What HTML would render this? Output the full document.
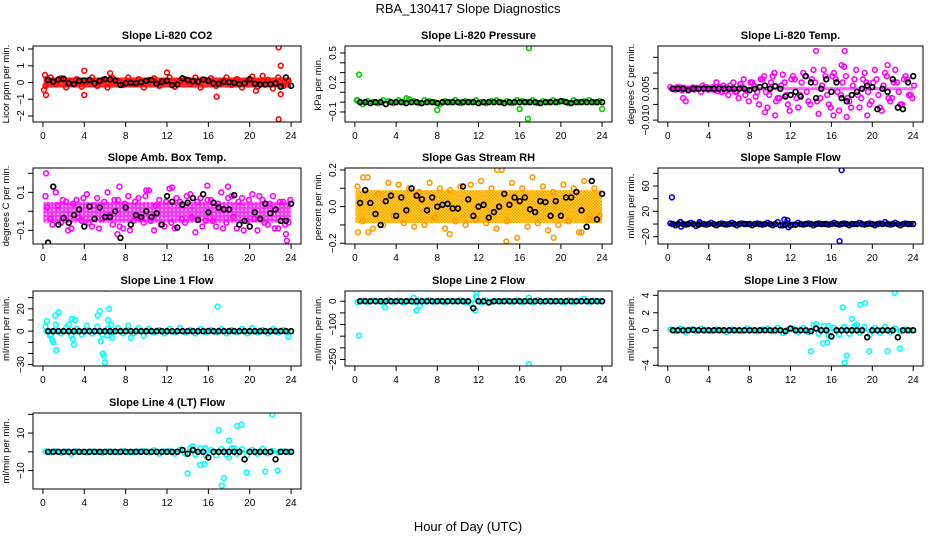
<!DOCTYPE html>
<html><head><meta charset="utf-8"><title>RBA_130417 Slope Diagnostics</title>
<style>
html,body{margin:0;padding:0;background:#fff;}
svg{display:block;font-family:"Liberation Sans",Arial,sans-serif;}
</style></head>
<body>
<svg id="chart" width="936" height="540" viewBox="0 0 936 540">
<defs>
<pattern id="rhpat" width="3" height="3" patternUnits="userSpaceOnUse">
<rect width="3" height="3" fill="#ffd800"/>
<rect width="1.5" height="1.5" fill="#ff8c00"/>
<rect x="1.5" y="1.5" width="1.5" height="1.5" fill="#ff8c00"/>
</pattern>
<pattern id="ambpat" width="4" height="4" patternUnits="userSpaceOnUse">
<rect width="4" height="4" fill="#ff00ff"/>
<rect x="1" y="1" width="2" height="2" fill="#ff99ff"/>
</pattern>
</defs>
<text x="468" y="13" text-anchor="middle" font-size="13">RBA_130417  Slope Diagnostics</text>
<text x="468" y="531" text-anchor="middle" font-size="13">Hour of Day (UTC)</text>
</svg>
<script>
// ---------- data ----------
const xTicks=[0,4,8,12,16,20,24];

const co2Black=[0.15,0.05,0.18,0.22,-0.05,-0.1,0.1,0.12,0.15,-0.05,0.1,0.2,0.18,0.12,-0.15,-0.05,-0.02,-0.05,0.02,0.1,0.15,-0.08,0.05,0.1,-0.15,-0.12,0.25,0.15,0.08,0.05,0.18,0.1,-0.05,-0.08,0.05,0.02,-0.02,-0.1,-0.05,0.2,-0.08,-0.12,-0.12,-0.1,-0.05,-0.25,0.3,-0.2];
const co2Cloud=[-0.2,0.3,-0.1,0.25,-0.3,0.1,0.2,-0.25,0.05,0.3,-0.2,0.15,-0.3,0.25,0.1,-0.15,0.3,-0.05,0.2,-0.3,0.15,0.25,-0.2,0.05,0.3,-0.25,0.1,0.2,-0.1,0.3,-0.3,0.15,0.25,-0.2,0.05,0.3,-0.15,0.2,-0.3,0.1,0.35,-0.25,0.4,0.15,-0.35,0.3,-0.2,0.1];
const co2Band=[-0.3,0.3];
const co2OutX=[22.8,22.8,23.0,4.0,4.0,0.3,0.2,16.8,23.0,6.5,12.0,0.1,20.6];
const co2OutY=[2.1,-2.2,1.0,0.7,-0.75,-0.75,0.45,-0.85,-0.7,0.55,0.6,-0.45,-0.5];

const presBlack=[0,0,-0.01,0,0,-0.02,0,0,0,-0.01,0,0,-0.01,0,0,-0.01,0,0,0,0,0,0,0,-0.01,0,0,0,0,-0.01,0,0,0,0,0,0,-0.01,0,0,0,0.01,0,-0.01,0,0,0,0,0,0];
const presCloud=[0.02,-0.02,0.01,0,-0.01,0.02,0.01,-0.01,0.02,0,0.03,0.01,-0.01,0.02,0.01,0,-0.02,0.01,0,0.02,-0.01,0.01,0,0.02,0,-0.01,0.01,0.02,0,0.01,-0.01,0.02,0.01,0,0.02,-0.01,0.01,0,0.02,0,0.01,-0.01,0.02,0,0.01,0.02,0,0.01];
const presBand=[-0.015,0.015];
const presOutX=[0.4,16.9,8.0,16.0,16.8,24.0,0.2,5.0];
const presOutY=[0.28,0.55,-0.08,-0.07,-0.17,-0.07,0.02,0.04];

const tempBlack=[0,0,0,-0.0005,0,0,0,0,0,0,0,0,0,0,0,-0.0005,0,0.0005,0.001,0,0.0008,0,-0.0025,-0.002,-0.001,-0.0025,0.004,0.002,-0.003,0,0.003,-0.001,0.002,-0.003,-0.004,-0.002,-0.001,0,0.001,0.0005,-0.0065,0,-0.001,0.003,-0.006,-0.0065,0.002,0.004];
const tempCloud=[0.0005,-0.0003,0.0004,-0.004,0,0.0003,-0.001,0.0005,-0.0002,0.002,-0.001,0.0004,0,-0.001,0.0005,-0.0005,0.002,-0.001,0.003,-0.006,0.004,-0.003,0.0045,-0.005,0.004,-0.006,0.005,-0.004,0.006,-0.008,0.006,-0.005,0.005,-0.007,0.007,-0.004,0.003,-0.006,0.005,-0.005,0.006,-0.006,0.005,-0.004,0.006,-0.005,0.004,-0.002];
const tempCloud2=[0,0.0005,-0.0005,0,0.0004,0,0.001,-0.0003,0.0005,-0.0008,0.001,-0.002,0.002,-0.003,0.003,-0.004,0.001,-0.005,0.004,-0.002,0.005,-0.003,0.002,-0.007,0.003,-0.002,0.004,-0.005,0.002,-0.003,0.004,-0.006,0.003,-0.002,0.004,-0.006,0.006,-0.003,0.002,-0.004,0.003,-0.007,0.004,-0.003,0.002,-0.005,0.003,-0.003];
const tempCloud3=[0,0,0.0003,0,-0.0003,0,0.0005,0,-0.0004,0.0006,-0.0008,0.001,-0.001,0.0015,-0.002,0.002,-0.0025,0.003,-0.001,0.002,-0.004,0.001,-0.002,0.003,-0.003,0.002,-0.001,0.003,-0.004,0.001,-0.002,0.004,-0.001,0.002,-0.003,0.001,-0.002,0.003,-0.001,0.002,-0.002,0.001,-0.003,0.002,-0.001,0.003,-0.002,0.001];
const tempBand=[-0.0005,0.0005];
const tempOutX=[14.5,17.3,17.5,1.5,21.5,9.5,10.5,19.5,16.2,17.0];
const tempOutY=[0.012,0.012,-0.009,-0.003,0.0075,-0.0075,-0.0085,-0.0085,-0.0085,0.0075];

const ambBlack=[-0.165,0.13,-0.07,-0.035,-0.06,-0.02,0.01,-0.08,0.025,-0.04,0.02,-0.03,-0.03,0,-0.14,0.02,-0.07,-0.02,-0.03,0,-0.03,-0.01,-0.07,0.08,0.05,-0.085,0.035,0.045,0.07,-0.045,0.09,-0.005,0.045,0.02,0.01,0.01,0.085,-0.07,-0.05,-0.08,-0.005,-0.04,0.04,-0.01,0.01,-0.05,-0.05,0.04];
const ambCloud=[0.08,-0.04,0.1,-0.06,0.05,-0.09,0.06,-0.05,0.09,-0.08,0.07,-0.04,0.1,-0.07,0.06,-0.09,0.08,-0.05,0.07,-0.06,0.11,-0.1,0.06,-0.08,0.12,-0.09,0.05,-0.06,0.09,-0.11,0.07,-0.05,0.06,-0.08,0.1,-0.06,0.08,-0.09,0.07,-0.05,0.09,-0.1,0.06,-0.07,0.08,-0.09,0.05,-0.06];
const ambCloud2=[0.02,-0.07,0.03,0.06,-0.1,0.04,-0.03,0.07,-0.06,0.03,-0.09,0.05,-0.02,0.06,-0.08,0.04,-0.1,0.05,-0.04,0.08,-0.05,0.03,-0.07,0.05,-0.06,0.07,-0.04,0.08,-0.03,0.05,-0.08,0.06,-0.05,0.04,-0.09,0.07,-0.03,0.05,-0.1,0.06,-0.04,0.08,-0.06,0.04,-0.09,0.05,-0.07,0.06];
const ambBand=[-0.06,0.05];
const ambOutX=[0.3,7.4,7.2,23.6,23.5,15.9,17.9,12.5,10.0];
const ambOutY=[0.2,0.13,-0.12,-0.155,-0.12,0.135,0.13,0.125,0.11];

const rhBlack=[0.02,0.09,0.02,-0.04,-0.1,0.03,0.06,-0.05,0.05,-0.02,0.1,0.06,0.04,-0.02,0.05,0,0.01,0.015,-0.01,-0.01,0.11,0.04,-0.05,0,0.01,-0.06,-0.03,0,0.07,0.01,0.05,0.03,0.05,-0.015,-0.03,0.03,0.025,-0.05,0.03,-0.05,0.05,0.05,0.08,-0.02,-0.11,0.14,-0.07,0.07];
const rhCloud=[0.11,-0.08,0.16,-0.12,0.07,-0.1,0.13,-0.05,0.12,-0.09,0.1,-0.11,0.08,-0.1,0.13,-0.06,0.1,-0.12,0.09,-0.08,0.11,-0.1,0.12,-0.07,0.14,-0.09,0.1,-0.12,0.2,-0.08,0.13,-0.17,0.1,-0.11,0.16,-0.09,0.11,-0.13,0.08,-0.1,0.12,-0.08,0.1,-0.14,0.14,-0.07,0.1,-0.05];
const rhBand=[-0.09,0.09];
const rhOutX=[0.3,1.3,22.0,14.7,19.3,9.2,0.8,13.8];
const rhOutY=[-0.14,-0.14,-0.14,-0.19,-0.17,-0.15,0.16,0.2];

const sfBlack=[0,0,0,0,0,-1,0,0,0,0,0,0,0,0,0,0,0,0,0,0,0,-2,-1,-2,-1,0,0,0,0,0,0,0,0,0,0,0,0,0,0,0,0,0,0,0,0,0,0,0];
const sfCloud=[1,-2,3,-1,2,-3,1,-1,2,-2,1,-1,2,-2,1,0,-2,1,-1,2,-2,3,-2,1,-1,2,-1,1,-2,1,0,-1,2,-1,1,-2,0,2,-1,1,-2,1,3,-1,2,-2,1,0];
const sfBand=[-2,2];
const sfOutX=[0.4,17.0,16.8,11.4,11.8,1.2,3.1,1.3,11.7];
const sfOutY=[42,85,-27,7,-5,3,3,-4,6];

const l1Black=[0,0,0,0,0,0,0,0,0,0,0,0,0,0,0,0,0,0,0,0,0,0,0,0,0,0,0,0,0,0,0,0,0,0,0,0,0,0,0,0,0,0,0,0,0,0,0,0];
const l1Cloud=[4,-3,6,-2,3,-4,2,-3,5,-2,4,-3,2,-1,3,-2,5,-2,3,-4,2,-1,1,-2,2,-1,3,-1,1,-2,2,-1,1,-1,2,-2,1,-1,2,-2,3,-1,1,-2,2,-1,1,-5];
const l1Band=[-2,2];
const l1OutX=[0.4,1.2,1.3,1.5,0.9,1.0,2.8,3.1,3.0,5.3,5.5,5.6,5.8,5.9,6.0,6.1,6.4,6.3,6.7,6.6,16.9,8.5,2.5,2.9,6.2,0.7];
const l1OutY=[9,14,-17,17,-8,-10,11,10,-12,14,18,-9,-20,-22,-28,38,20,10,-6,6,22,-6,6,-7,-4,-4];

const l2Black=[0,0,0,0,0,0,0,0,0,0,0,0,0,0,0,0,0,0,0,0,0,0,-30,0,0,-5,0,0,0,0,0,0,0,0,0,0,0,0,0,0,0,0,0,0,0,0,0,0];
const l2Cloud=[-3,3,-2,4,0,-4,5,-2,3,-5,2,-3,4,-1,5,-2,3,-4,2,0,5,-3,-10,20,-4,3,-2,2,-1,3,-2,4,-3,2,-4,5,-2,3,-1,2,-3,4,-2,3,10,-2,3,-1];
const l2Band=[-4,4];
const l2OutX=[0.4,16.9,5.7,6.0,2.9,11.7,16.9,11.8,11.8,6.3];
const l2OutY=[-148,-270,15,-40,-25,-40,15,40,20,-20];

const l3Black=[0,0,0,0,0.05,0,0,0,0,0,0,0,0,0,0,0,0,0,0,0,0,0,-0.1,0.2,0,0,0,-0.1,0.2,0,0,-0.7,0,0,0,0,0,0,-0.8,0,0,0,0,0,-0.8,0,0,0];
const l3Cloud=[0.1,-0.1,0.2,-0.2,0.1,-0.1,0.2,0,-0.1,0.1,0,-0.2,0.1,0,-0.1,0.2,0,-0.1,0.1,0.2,-0.1,0.3,-0.3,0.1,0.2,-0.2,0.3,-0.2,0.6,-0.4,0.5,-0.6,0.3,-0.5,0.4,-0.4,0.5,-0.3,0.4,-0.5,0.3,-0.3,0.4,-0.2,0.2,-0.1,0.1,0];
const l3Band=[-0.15,0.15];
const l3OutX=[22.2,19.3,18.8,17.1,18.0,14.0,15.2,15.6,17.3,17.5,19.7,21.5,22.7,14.5,15.7,18.5];
const l3OutY=[4.3,3.1,2.9,2.6,1.3,-2.4,-1.5,-1.4,-3.7,-2.9,-2.4,-2.4,-2.1,0.7,0.5,0.6];

const l4Black=[0,0,0,0,0,0,0,0,0,0,0,0,0,0,0,0,0,0,0,0,0,0,0,0,0,0,1,-1,1,0,0,-3,0,0,0,0,0,0,-4,0,0,0,0,0,-4,0,0,0];
const l4Cloud=[0.3,-0.3,0.5,-0.5,0.3,-1,0.4,0,-0.4,0.3,0,-0.5,0.3,0,-0.3,0.5,0,-0.3,0.3,0.5,-0.3,0.8,-1,0.3,0.5,-1,1.2,-1,2,-1.5,1.8,-2,1,-1.8,1.5,-1.5,2,-1,1.4,-1.8,1,-1,1.5,-0.8,0.5,-0.3,0.3,0];
const l4Band=[-0.6,0.6];
const l4OutX=[22.2,19.2,18.8,17.0,18.0,14.0,15.2,15.6,17.3,17.5,19.7,21.5,22.7,14.5,15.7,18.5,18.0];
const l4OutY=[20,14.5,13.8,11.5,6,-11.5,-7,-6.5,-18,-14,-11,-10.5,-10,3,2,2,-3];

// ---------- layout (not data) ----------
const panels=[
 {name:'co2',title:'Slope Li-820 CO2',yl:'Licor ppm per min.',L:33,T:46,W:268,H:76,ymin:-2.36,ymax:2.18,ticks:[-2,-1,0,1,2],labels:['\u22122','\u22121','0','1','2'],col:'#ff0000',band:co2Band,cloud:[co2Cloud],black:co2Black,ox:co2OutX,oy:co2OutY,bandColor:'#ff0000',bandOp:0.85},
 {name:'pressure',title:'Slope Li-820 Pressure',yl:'kPa per min.',L:345,T:46,W:267,H:76,ymin:-0.202,ymax:0.571,ticks:[-0.1,0,0.1,0.2,0.3,0.4,0.5],labels:['\u22120.1','','','0.2','','','0.5'],col:'#00cc00',band:presBand,cloud:[presCloud],black:presBlack,ox:presOutX,oy:presOutY,bandColor:'#00cc00',bandOp:0.8},
 {name:'temp',title:'Slope Li-820 Temp.',yl:'degrees C per min.',L:658,T:46,W:265,H:76,ymin:-0.0106,ymax:0.0136,ticks:[-0.01,-0.005,0,0.005,0.01],labels:['\u22120.010','','0.005','',''],col:'#ff00ff',band:tempBand,cloud:[tempCloud,tempCloud2,tempCloud3],black:tempBlack,ox:tempOutX,oy:tempOutY,bandColor:'#ff00ff',bandOp:0.6},
 {name:'amb-temp',title:'Slope Amb. Box Temp.',yl:'degrees C per min.',L:33,T:168,W:268,H:76,ymin:-0.172,ymax:0.228,ticks:[-0.1,0,0.1,0.2],labels:['\u22120.1','','0.1',''],col:'#ff00ff',band:ambBand,cloud:[ambCloud,ambCloud2],black:ambBlack,ox:ambOutX,oy:ambOutY,bandColor:'url(#ambpat)',bandOp:0.8},
 {name:'rh',title:'Slope Gas Stream RH',yl:'percent per min.',L:345,T:168,W:267,H:76,ymin:-0.204,ymax:0.211,ticks:[-0.2,-0.1,0,0.1,0.2],labels:['\u22120.2','','0.0','','0.2'],col:'#ff9900',band:rhBand,cloud:[rhCloud],black:rhBlack,ox:rhOutX,oy:rhOutY,bandColor:'url(#rhpat)',bandOp:0.9},
 {name:'sample-flow',title:'Slope Sample Flow',yl:'ml/min per min.',L:658,T:168,W:265,H:76,ymin:-31.5,ymax:88.4,ticks:[-20,0,20,40,60,80],labels:['\u221220','','20','','60',''],col:'#0000ff',band:sfBand,cloud:[sfCloud],black:sfBlack,ox:sfOutX,oy:sfOutY,bandColor:'#0000ff',bandOp:0.85},
 {name:'line1',title:'Slope Line 1 Flow',yl:'ml/min per min.',L:33,T:291,W:268,H:75,ymin:-31.2,ymax:36,ticks:[-30,-20,-10,0,10,20,30],labels:['\u221230','','','0','','20',''],col:'#00ffff',band:l1Band,cloud:[l1Cloud],black:l1Black,ox:l1OutX,oy:l1OutY,bandColor:'#00ffff',bandOp:0.8},
 {name:'line2',title:'Slope Line 2 Flow',yl:'ml/min per min.',L:345,T:291,W:267,H:75,ymin:-278,ymax:44,ticks:[-250,-200,-150,-100,-50,0],labels:['\u2212250','','','\u2212100','','0'],col:'#00ffff',band:l2Band,cloud:[l2Cloud],black:l2Black,ox:l2OutX,oy:l2OutY,bandColor:'#00ffff',bandOp:0.8},
 {name:'line3',title:'Slope Line 3 Flow',yl:'ml/min per min.',L:658,T:291,W:265,H:75,ymin:-4.08,ymax:4.49,ticks:[-4,-2,0,2,4],labels:['\u22124','','0','2','4'],col:'#00ffff',band:l3Band,cloud:[l3Cloud],black:l3Black,ox:l3OutX,oy:l3OutY,bandColor:'#00ffff',bandOp:0.8},
 {name:'line4',title:'Slope Line 4 (LT) Flow',yl:'ml/min per min.',L:33,T:413,W:268,H:76,ymin:-19.8,ymax:20.7,ticks:[-10,0,10,20],labels:['\u221210','','10',''],col:'#00ffff',band:l4Band,cloud:[l4Cloud],black:l4Black,ox:l4OutX,oy:l4OutY,bandColor:'#00ffff',bandOp:0.8}
];

const NS='http://www.w3.org/2000/svg';
const svg=document.getElementById('chart');
function mk(tag,attrs,parent){const e=document.createElementNS(NS,tag);for(const k in attrs)e.setAttribute(k,attrs[k]);parent.appendChild(e);return e;}

panels.forEach(p=>{
  const g=mk('g',{},svg);
  
  
  const xs=h=>p.L+(h+0.96)/25.92*p.W;
  const ys=v=>p.T+p.H-(v-p.ymin)/(p.ymax-p.ymin)*p.H;
  const clip='clip-'+p.name;
  const cp=mk('clipPath',{id:clip},g);
  mk('rect',{x:p.L,y:p.T,width:p.W,height:p.H},cp);
  const plot=mk('g',{'clip-path':'url(#'+clip+')'},g);
  
  
  const band=mk('rect',{x:xs(0.05),y:ys(p.band[1]),width:xs(24)-xs(0.05),height:ys(p.band[0])-ys(p.band[1]),fill:p.bandColor,'fill-opacity':p.bandOp},plot);
  
  
  p.cloud.forEach((arr,ci)=>{
    arr.forEach((v,i)=>{
      const h=0.25+0.5*i+ci*0.17;
      const c=mk('circle',{cx:xs(h),cy:ys(v),r:2.4,fill:'none',stroke:p.col,'stroke-width':1.6},plot);
      
      
    });
  });
  p.ox.forEach((h,i)=>{
    const c=mk('circle',{cx:xs(h),cy:ys(p.oy[i]),r:2.4,fill:'none',stroke:p.col,'stroke-width':1.6},plot);
    
    
  });
  p.black.forEach((v,i)=>{
    const h=0.5*(i+1);
    const c=mk('circle',{cx:xs(h),cy:ys(v),r:2.4,fill:'none',stroke:'#000','stroke-width':1.7},plot);
    
    
  });
  const box=mk('rect',{x:p.L,y:p.T,width:p.W,height:p.H,fill:'none',stroke:'#000','stroke-width':1},g);
  
  
  const t=mk('text',{x:p.L+p.W/2,y:p.T-7,'text-anchor':'middle','font-size':11,'font-weight':'bold'},g);
  t.textContent=p.title;
  
  
  xTicks.forEach(h=>{
    mk('line',{x1:xs(h),x2:xs(h),y1:p.T+p.H,y2:p.T+p.H+5,stroke:'#000'},g);
    const l=mk('text',{x:xs(h),y:p.T+p.H+17,'text-anchor':'middle','font-size':10},g);
    l.textContent=h;
    
    
  });
  p.ticks.forEach((v,i)=>{
    const y=ys(v);
    mk('line',{x1:p.L-5,x2:p.L,y1:y,y2:y,stroke:'#000'},g);
    if(p.labels[i]){
      const l=mk('text',{x:p.L-9,y:y,'text-anchor':'middle','font-size':10,transform:'rotate(-90 '+(p.L-9)+' '+y+')'},g);
      l.textContent=p.labels[i];
      
      
    }
  });
  const yt=mk('text',{x:p.L-24,y:p.T+p.H/2,'text-anchor':'middle','font-size':9.5,transform:'rotate(-90 '+(p.L-24)+' '+(p.T+p.H/2)+')'},g);
  yt.textContent=p.yl;
  
  
});
</script>
</body></html>
